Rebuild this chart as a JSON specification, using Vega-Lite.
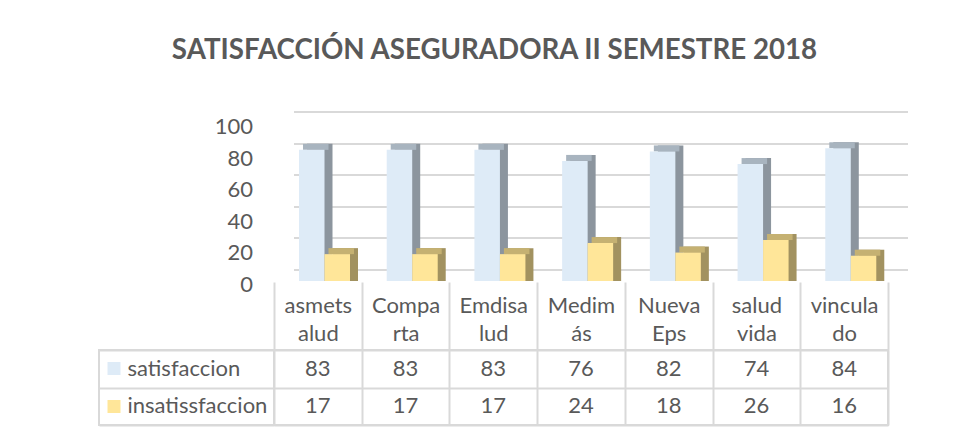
{
  "$schema": "https://vega.github.io/schema/vega-lite/v6.json",
  "padding": {"left": 97, "top": 37, "right": 40, "bottom": 5},
  "background": "white",
  "title": {"text": "SATISFACCIÓN ASEGURADORA II SEMESTRE 2018", "font": "Lato", "fontSize": 27.7, "fontWeight": "bold", "color": "#595959", "offset": 31, "anchor": "middle"},
  "config": {"view": {"stroke": null}, "font": "Lato"},
  "data": {"values": [
    {"cat": "asmetsalud", "serie": "satisfaccion", "value": 83},
    {"cat": "Comparta", "serie": "satisfaccion", "value": 83},
    {"cat": "Emdisalud", "serie": "satisfaccion", "value": 83},
    {"cat": "Medimás", "serie": "satisfaccion", "value": 76},
    {"cat": "Nueva Eps", "serie": "satisfaccion", "value": 82},
    {"cat": "salud vida", "serie": "satisfaccion", "value": 74},
    {"cat": "vinculado", "serie": "satisfaccion", "value": 84},
    {"cat": "asmetsalud", "serie": "insatissfaccion", "value": 17},
    {"cat": "Comparta", "serie": "insatissfaccion", "value": 17},
    {"cat": "Emdisalud", "serie": "insatissfaccion", "value": 17},
    {"cat": "Medimás", "serie": "insatissfaccion", "value": 24},
    {"cat": "Nueva Eps", "serie": "insatissfaccion", "value": 18},
    {"cat": "salud vida", "serie": "insatissfaccion", "value": 26},
    {"cat": "vinculado", "serie": "insatissfaccion", "value": 16}
  ]},
  "columns": 2,
  "spacing": {"row": 69, "column": 0},
  "bounds": "flush",
  "concat": [
    {
      "width": 175, "height": 158,
      "mark": {"type": "text"},
      "encoding": {"text": {"value": ""}}
    },
    {
      "width": 618, "height": 158,
      "encoding": {
        "x": {"field": "cat", "type": "nominal", "sort": ["asmetsalud", "Comparta", "Emdisalud", "Medimás", "Nueva Eps", "salud vida", "vinculado"], "scale": {"range": [0, 614], "paddingInner": 0, "paddingOuter": 0}, "axis": null},
        "y": {"field": "value", "type": "quantitative", "stack": null, "scale": {"domain": [0, 100], "nice": false},
          "axis": {"values": [0, 20, 40, 60, 80, 100], "domain": false, "ticks": false, "grid": true, "gridColor": "#d9d9d9", "gridWidth": 2, "translate": 20, "tickOffset": -31, "labelOffset": 15, "labelPadding": 41, "labelFontSize": 22, "labelColor": "#595959", "labelFont": "Lato", "title": null}}
      },
      "layer": [
        {
          "mark": {"type": "bar", "yOffset": -6},
          "encoding": {
            "xOffset": {"field": "serie", "type": "nominal", "sort": ["satisfaccion", "insatissfaccion"], "scale": {"range": [33, 84], "paddingInner": 0, "paddingOuter": 0}},
            "color": {"condition": {"test": "datum.serie === 'satisfaccion'", "value": "#8c959e"}, "value": "#a29260"}
          }
        },
        {
          "mark": {"type": "bar", "yOffset": -6, "y2Offset": 0},
          "encoding": {
            "y2": {"field": "value"},
            "xOffset": {"field": "serie", "type": "nominal", "sort": ["satisfaccion", "insatissfaccion"], "scale": {"range": [29, 80], "paddingInner": 0, "paddingOuter": 0}},
            "color": {"condition": {"test": "datum.serie === 'satisfaccion'", "value": "#a8b4bf"}, "value": "#c5b172"}
          }
        },
        {
          "mark": {"type": "bar"},
          "encoding": {
            "xOffset": {"field": "serie", "type": "nominal", "sort": ["satisfaccion", "insatissfaccion"], "scale": {"range": [25, 76], "paddingInner": 0, "paddingOuter": 0}},
            "color": {"condition": {"test": "datum.serie === 'satisfaccion'", "value": "#deebf7"}, "value": "#ffe699"}
          }
        }
      ],
      "resolve": {"scale": {"xOffset": "independent"}}
    },
    {
      "width": 175, "height": 75,
      "view": {"stroke": "#d9d9d9", "strokeWidth": 2},
      "mark": {"type": "text"},
      "encoding": {
        "y": {"field": "serie", "type": "nominal", "sort": ["satisfaccion", "insatissfaccion"], "scale": {"type": "band", "paddingInner": 0, "paddingOuter": 0},
          "axis": {"orient": "right", "offset": -167, "domain": false, "ticks": true, "tickSize": 13, "tickWidth": 13, "tickCap": "butt",
            "tickColor": {"condition": {"test": "datum.value === 'satisfaccion'", "value": "#deebf7"}, "value": "#ffe699"},
            "labelPadding": 7, "labelFontSize": 22, "labelColor": "#595959", "labelFont": "Lato", "grid": false, "title": null}},
        "text": {"value": ""}
      }
    },
    {
      "width": 614, "height": 75,
      "view": {"stroke": "#d9d9d9", "strokeWidth": 2},
      "mark": {"type": "text", "fontSize": 22, "color": "#595959", "font": "Lato"},
      "encoding": {
        "x": {"field": "cat", "type": "nominal", "sort": ["asmetsalud", "Comparta", "Emdisalud", "Medimás", "Nueva Eps", "salud vida", "vinculado"], "scale": {"type": "band", "paddingInner": 0, "paddingOuter": 0},
          "axis": {"orient": "top", "domain": false, "ticks": true, "tickBand": "extent", "tickSize": 68, "tickColor": "#d9d9d9", "tickWidth": 2, "grid": true, "gridColor": "#d9d9d9", "gridWidth": 2,
            "labelExpr": "{'asmetsalud': ['asmets', 'alud'], 'Comparta': ['Compa', 'rta'], 'Emdisalud': ['Emdisa', 'lud'], 'Medimás': ['Medim', 'ás'], 'Nueva Eps': ['Nueva', 'Eps'], 'salud vida': ['salud', 'vida'], 'vinculado': ['vincula', 'do']}[datum.value]",
            "labelPadding": -35, "labelLineHeight": 28, "labelFontSize": 22, "labelColor": "#595959", "labelFont": "Lato", "labelAngle": 0, "labelOverlap": false, "title": null}},
        "y": {"field": "serie", "type": "nominal", "sort": ["satisfaccion", "insatissfaccion"], "scale": {"type": "band", "paddingInner": 0, "paddingOuter": 0},
          "axis": {"orient": "left", "labels": false, "domain": false, "ticks": true, "tickBand": "extent", "tickSize": 175, "tickColor": "#d9d9d9", "tickWidth": 2, "grid": true, "gridColor": "#d9d9d9", "gridWidth": 2, "title": null}},
        "text": {"field": "value", "type": "quantitative"}
      }
    }
  ]
}
